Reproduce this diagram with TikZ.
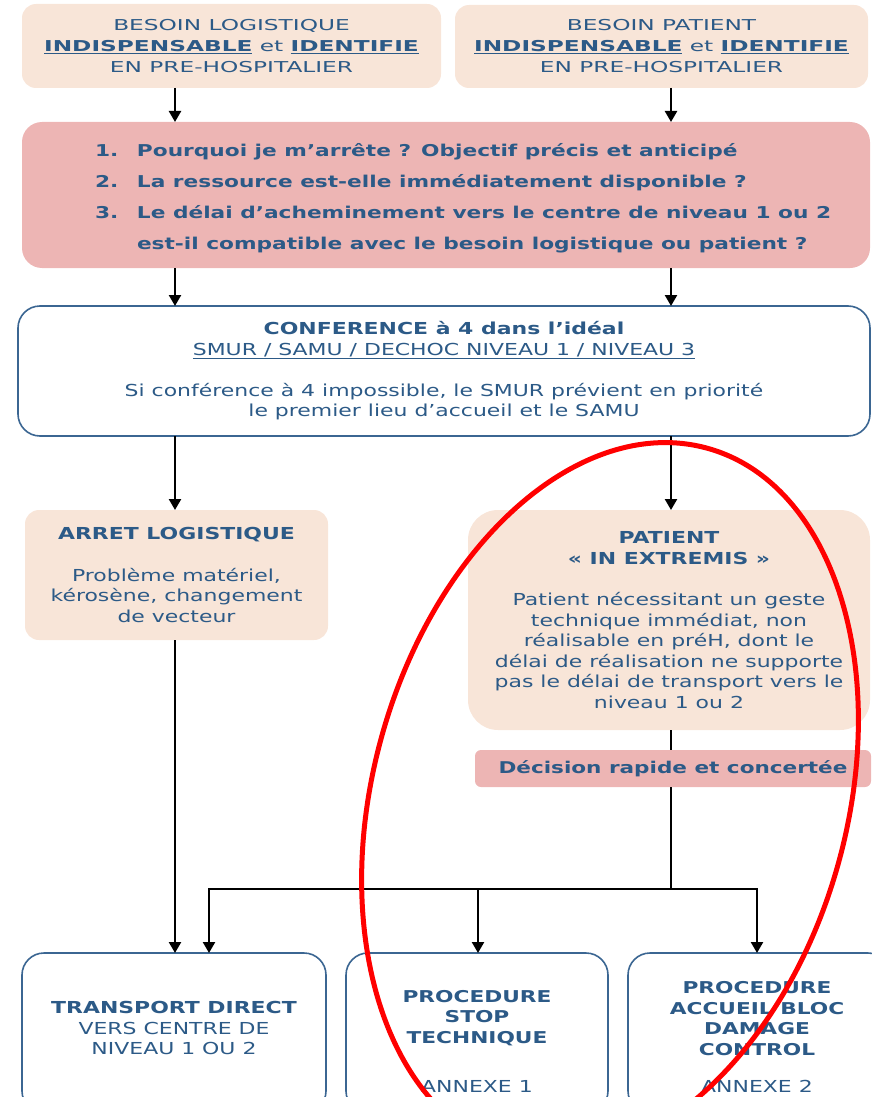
\documentclass[tikz,border=0pt]{standalone}
\usepackage{fontspec}
\setmainfont{DejaVu Sans}[FakeStretch=1.33]
\newfontfamily\topf{DejaVu Sans}[FakeStretch=1.55]
\usetikzlibrary{arrows.meta}
\definecolor{tblue}{HTML}{2C5A87}
\definecolor{peach}{HTML}{F8E5D8}
\definecolor{pinkc}{HTML}{EDB5B4}
\definecolor{bord}{HTML}{3B6692}
\begin{document}
\begin{tikzpicture}[x=1pt,y=-1pt,
  every node/.style={inner sep=0pt, outer sep=0pt, text=tblue, align=center, font=\fontsize{16.5}{20.5}\selectfont},
  peachbox/.style={fill=peach, rounded corners=14pt},
  pinkbox/.style={fill=pinkc, rounded corners=20pt},
  bluebox/.style={draw=bord, line width=1.6pt, fill=white, rounded corners=22pt},
  arr/.style={-{Triangle[width=12pt,length=11pt]}, line width=2.4pt, black},
  ln/.style={line width=2.4pt, black},
  txt/.style={}
]
\useasboundingbox (0,0) rectangle (872,1097);
\coordinate (colL) at (175,0);
\coordinate (colR) at (671,0);

% top boxes
\node[peachbox, minimum width=419pt, minimum height=84pt, font=\topf\fontsize{15}{21}\selectfont] (tl) at (231.5,46)
  {BESOIN LOGISTIQUE\\ \textbf{\underline{INDISPENSABLE}} et \textbf{\underline{IDENTIFIE}}\\ EN PRE-HOSPITALIER};
\node[peachbox, minimum width=413pt, minimum height=83pt, font=\topf\fontsize{15}{21}\selectfont] (tr) at (661.5,46.5)
  {BESOIN PATIENT\\ \textbf{\underline{INDISPENSABLE}} et \textbf{\underline{IDENTIFIE}}\\ EN PRE-HOSPITALIER};

% questions box
\node[pinkbox, minimum width=848pt, minimum height=146pt] (q) at (446,195) {};
\node[txt, align=left, anchor=west, font=\bfseries\fontsize{16.3}{31}\selectfont] (qt) at (95,198)
  {\makebox[42pt][l]{1.}Pourquoi je m’arrête ? Objectif précis et anticipé\\
   \makebox[42pt][l]{2.}La ressource est-elle immédiatement disponible ?\\
   \makebox[42pt][l]{3.}Le délai d’acheminement vers le centre de niveau 1 ou 2\\
   \makebox[42pt][l]{}est-il compatible avec le besoin logistique ou patient ?};

% conference
\node[bluebox, minimum width=852pt, minimum height=130pt] (conf) at (444,371)
  {\textbf{CONFERENCE à 4 dans l’idéal}\\ \underline{SMUR / SAMU / DECHOC NIVEAU 1 / NIVEAU 3}\\[20.5pt]
   Si conférence à 4 impossible, le SMUR prévient en priorité\\ le premier lieu d’accueil et le SAMU};

% arret logistique
\node[peachbox, minimum width=303pt, minimum height=130pt] (arret) at (176.5,575)
  {\textbf{ARRET LOGISTIQUE}\\[21pt] Problème matériel,\\ kérosène, changement\\ de vecteur};

% patient
\node[peachbox, rounded corners=30pt, minimum width=402pt, minimum height=220pt] (pat) at (669,620)
  {\textbf{PATIENT}\\ \textbf{« IN EXTREMIS »}\\[21pt]
   Patient nécessitant un geste\\ technique immédiat, non\\ réalisable en préH, dont le\\
   délai de réalisation ne supporte\\ pas le délai de transport vers le\\ niveau 1 ou 2};

% decision
\node[pinkbox, rounded corners=6pt, minimum width=396pt, minimum height=37pt, font=\bfseries\fontsize{16.2}{20.5}\selectfont] (dec) at (673,768.5)
  {Décision rapide et concertée};

% bottom boxes
\node[bluebox, minimum width=304pt, minimum height=160pt] (b1) at (174,1033) {};
\node[bluebox, minimum width=262pt, minimum height=160pt] (b2) at (477,1033) {};
\node[bluebox, minimum width=262pt, minimum height=160pt] (b3) at (759,1033) {};
\node[txt] (b1t) at (174,1028) {\textbf{TRANSPORT DIRECT}\\ VERS CENTRE DE\\ NIVEAU 1 OU 2};
\node[txt, font=\bfseries\fontsize{16.3}{20.5}\selectfont] (b2t) at (477,1018) {PROCEDURE\\ STOP\\ TECHNIQUE};
\node[txt] (b2a) at (477,1086) {ANNEXE 1};
\node[txt, font=\bfseries\fontsize{16.3}{20.5}\selectfont] (b3t) at (757,1018.5) {PROCEDURE\\ ACCUEIL BLOC\\ DAMAGE\\ CONTROL};
\node[txt] (b3a) at (757,1086) {ANNEXE 2};

% connectors
\draw[arr] (tl.south -| colL) -- (q.north -| colL);
\draw[arr] (tr.south -| colR) -- (q.north -| colR);
\draw[arr] (q.south -| colL) -- (conf.north -| colL);
\draw[arr] (q.south -| colR) -- (conf.north -| colR);
\draw[arr] (conf.south -| colL) -- (arret.north -| colL);
\draw[arr] (conf.south -| colR) -- (pat.north -| colR);
\draw[arr] (arret.south -| colL) -- (b1.north -| colL);
\draw[ln] (pat.south -| colR) -- (dec.north -| colR);
\coordinate (j) at (671,889);
\coordinate (jl) at (209,889);
\coordinate (jr) at (757,889);
\coordinate (jm) at (478,889);
\draw[ln] (dec.south -| colR) -- (j);
\draw[arr] (j) -- (jl) -- (b1.north -| jl);
\draw[arr] (j) -- (jr) -- (b3.north -| jr);
\draw[arr] (jm) -- (b2.north -| jm);

% red ellipse annotation
\draw[red, line width=5pt, rotate around={-15.5:(610,800)}] (610,800) ellipse [x radius=237pt, y radius=365pt];
\end{tikzpicture}
\end{document}
